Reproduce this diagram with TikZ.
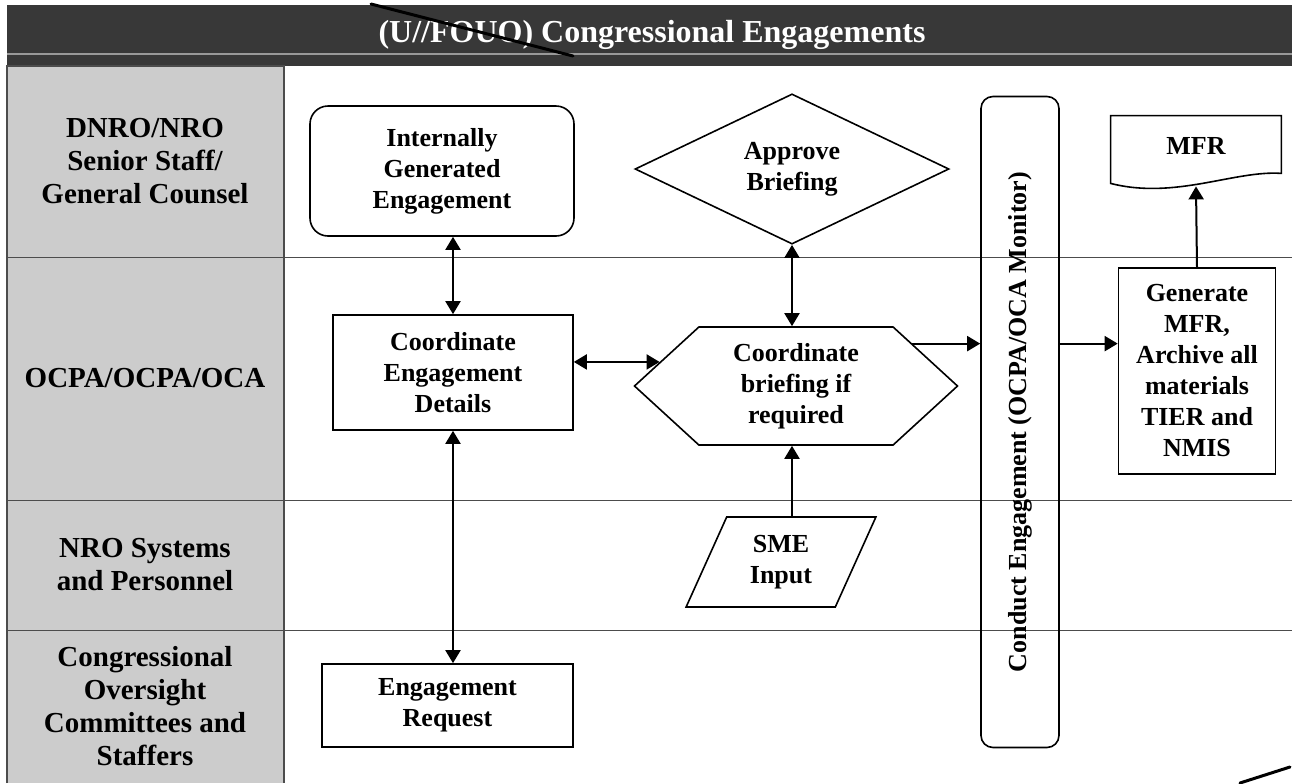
\documentclass[tikz,border=0pt]{standalone}
\usepackage{fontspec}
\setmainfont{Liberation Serif}
\usepackage{tikz}
\usetikzlibrary{positioning, arrows.meta, shapes.geometric, shapes.symbols}

\begin{document}
\begin{tikzpicture}[
  x=0.5pt, y=-0.5pt,
  lane/.style = {font=\bfseries\fontsize{14.5}{16.5}\selectfont, align=center},
  box/.style = {rectangle, draw, line width=0.8pt, font=\bfseries\fontsize{13}{15.5}\selectfont, align=center, inner sep=2pt},
  rbox/.style = {box, rounded corners=9pt},
  hexa/.style = {box, signal, signal to=east and west, signal pointer angle=85},
  para/.style = {box, trapezium, trapezium left angle=67, trapezium right angle=113, trapezium stretches=true},
  arrow/.style = {-{Triangle[length=6.5pt,width=7.5pt]}, line width=1pt},
  dblarrow/.style = {{Triangle[length=6.5pt,width=7.5pt]}-{Triangle[length=6.5pt,width=7.5pt]}, line width=1pt}
  ]

\useasboundingbox (0,0) rectangle (1292,783);

\fill[black!78] (7,5) rectangle (1292,66);
\draw[black!40, line width=0.6pt] (7,54) -- (1292,54);
\node[font=\bfseries\fontsize{16}{18}\selectfont, text=white] (title) at (652,35) {(U//FOUO) Congressional Engagements};
\draw[line width=1.5pt, line cap=round] (371,4) -- (573,56);

\fill[black!20] (7,66) rectangle (284,783);
\draw[black!70, line width=0.5pt] (7,257) -- (1292,257);
\draw[black!70, line width=0.5pt] (7,500) -- (1292,500);
\draw[black!70, line width=0.5pt] (7,630) -- (1292,630);
\draw[black!70, line width=0.6pt] (7,783) -- (7,66) -- (284,66) -- (284,783);

\node[lane] (dnro) at (145,161) {DNRO/NRO\\Senior Staff/\\General Counsel};
\node[lane] (ocpa) at (145,378) {OCPA/OCPA/OCA};
\node[lane] (nro) at (145,565) {NRO Systems\\and Personnel};
\node[lane] (cong) at (145,706) {Congressional\\Oversight\\Committees and\\Staffers};

\node[rbox, minimum width=132pt, minimum height=65pt] (internal) at (442,171) {Internally\\Generated\\Engagement};
\node[box, diamond, minimum width=157pt, minimum height=72pt, inner sep=0pt] (approve) at (792,169) {Approve\\Briefing};
\node[box, minimum width=120pt, minimum height=57.5pt] (coord) at (453,372.5) {Coordinate\\Engagement\\Details};
\node[hexa, minimum width=161.5pt, minimum height=59pt] (brief) at (796,386) {Coordinate\\briefing if\\required};
\node[para, minimum width=95pt, minimum height=45pt] (sme) at (781,562) {SME\\Input};
\node[box, minimum width=125.5pt, minimum height=41.5pt] (request) at (447.5,705.5) {Engagement\\Request};
\node[rbox, rounded corners=6pt, rotate=90, minimum width=325.5pt, minimum height=39pt] (conduct) at (1020,422) {Conduct Engagement (OCPA/OCA Monitor)};
\node[box, minimum width=78.5pt, minimum height=103pt] (archive) at (1197,371) {Generate\\MFR,\\Archive all\\materials\\TIER and\\NMIS};
\node[font=\bfseries\fontsize{13}{15.5}\selectfont, minimum width=85pt, minimum height=30pt] (mfr) at (1196,146) {MFR};
\draw[line width=0.8pt] (mfr.north west) -- (mfr.north east) -- ([yshift=1.5pt]mfr.south east)
  .. controls (1235,170) and (1175,200) .. ([yshift=-3.5pt]mfr.south west) -- cycle;

\draw[dblarrow] (coord.north) -- (coord.north |- internal.south);
\draw[dblarrow] (coord.south) -- (coord.south |- request.north);
\draw[dblarrow] (coord.east |- brief.170) -- (brief.170);
\draw[dblarrow] (approve.south) -- (approve.south |- brief.north);
\draw[arrow] (approve.south |- sme.north) -- (approve.south |- brief.south);
\draw[arrow] (brief.20) -- (brief.20 -| conduct.north);
\draw[arrow] (conduct.south |- brief.20) -- (archive.west |- brief.20);
\draw[arrow] (archive.north) -- ([yshift=-5pt]mfr.south);

\draw[line width=1.5pt, line cap=round] (1240,783) -- (1290,767);

\end{tikzpicture}
\end{document}
